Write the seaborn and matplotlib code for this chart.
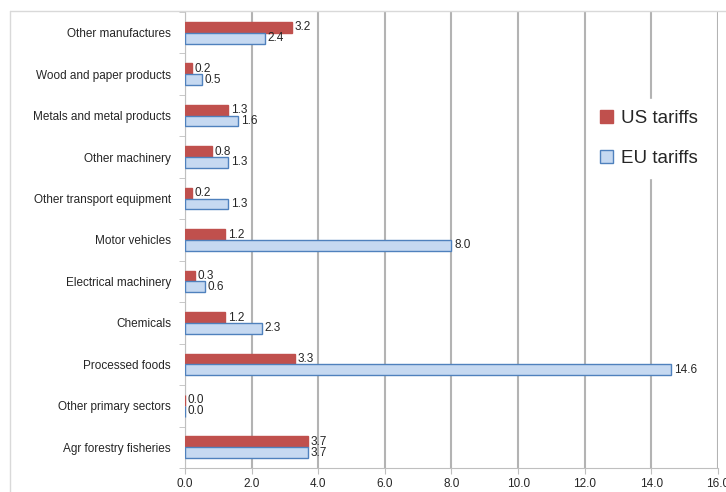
import pandas as pd
import seaborn as sns
import matplotlib.pyplot as plt
from matplotlib.patches import Patch

# sector tariffs (percent), top to bottom as in the chart
sectors = ['Other manufactures', 'Wood and paper products', 'Metals and metal products',
           'Other machinery', 'Other transport equipment', 'Motor vehicles',
           'Electrical machinery', 'Chemicals', 'Processed foods',
           'Other primary sectors', 'Agr forestry fisheries']
us_tariffs = [3.2, 0.2, 1.3, 0.8, 0.2, 1.2, 0.3, 1.2, 3.3, 0.0, 3.7]
eu_tariffs = [2.4, 0.5, 1.6, 1.3, 1.3, 8.0, 0.6, 2.3, 14.6, 0.0, 3.7]
x_ticks = [0, 2, 4, 6, 8, 10, 12, 14, 16]

df = pd.DataFrame({
    'sector': sectors * 2,
    'tariff': us_tariffs + eu_tariffs,
    'series': ['US tariffs'] * len(sectors) + ['EU tariffs'] * len(sectors),
})

sns.set_style('white')
plt.rcParams['font.family'] = ['Liberation Sans', 'DejaVu Sans']

fig = plt.figure(figsize=(7.26, 4.92), dpi=100)
ax = fig.add_axes([0.2548, 0.0488, 0.7342, 0.9268])

red = '#C0504D'
blue_fill = '#C6D9F1'
blue_edge = '#4F81BD'

sns.barplot(data=df, y='sector', x='tariff', hue='series', orient='h',
            palette={'US tariffs': red, 'EU tariffs': blue_fill},
            saturation=1, width=0.52, ax=ax, legend=False, zorder=3)

for cont, edge in zip(ax.containers, [red, blue_edge]):
    for bar in cont:
        bar.set_edgecolor(edge)
        bar.set_linewidth(1.0)
    ax.bar_label(cont, fmt='%.1f', padding=2, fontsize=8.5)

ax.set_xlim(0, 16)
ax.set_xticks(x_ticks)
ax.set_xticklabels([f'{t:.1f}' for t in x_ticks], fontsize=8.5)
ax.tick_params(axis='y', labelsize=8.5, length=0, pad=10)
# small marks between categories on the left axis
ax.set_yticks([i + 0.5 for i in range(-1, len(sectors))], minor=True)
ax.tick_params(axis='y', which='minor', length=4, color='#BFBFBF', left=True)
ax.tick_params(axis='x', length=4, color='#BFBFBF', bottom=True)
ax.set_xlabel('')
ax.set_ylabel('')
ax.grid(axis='x', color='#B3B3B3', linewidth=1.5, zorder=0)

for s in ['top', 'right']:
    ax.spines[s].set_visible(False)
for s in ['left', 'bottom']:
    ax.spines[s].set_color('#BFBFBF')

handles = [Patch(facecolor=red, edgecolor=red),
           Patch(facecolor=blue_fill, edgecolor=blue_edge)]
leg = ax.legend(handles, ['US tariffs', 'EU tariffs'], loc='upper left',
                bbox_to_anchor=(0.74, 0.83), frameon=True, fontsize=13.5,
                handlelength=0.7, handleheight=0.7, labelspacing=1.2,
                borderpad=0.6, handletextpad=0.4)
leg.get_frame().set_edgecolor('white')
leg.get_frame().set_facecolor('white')
leg.get_frame().set_alpha(1)
leg.set_zorder(5)

# outer chart border
fig.add_artist(plt.Line2D([0.014, 1.0], [0.977, 0.977], color='#D9D9D9', lw=1))
fig.add_artist(plt.Line2D([0.014, 0.014], [0.0, 0.977], color='#D9D9D9', lw=1))

plt.savefig('out.png', dpi=100)
